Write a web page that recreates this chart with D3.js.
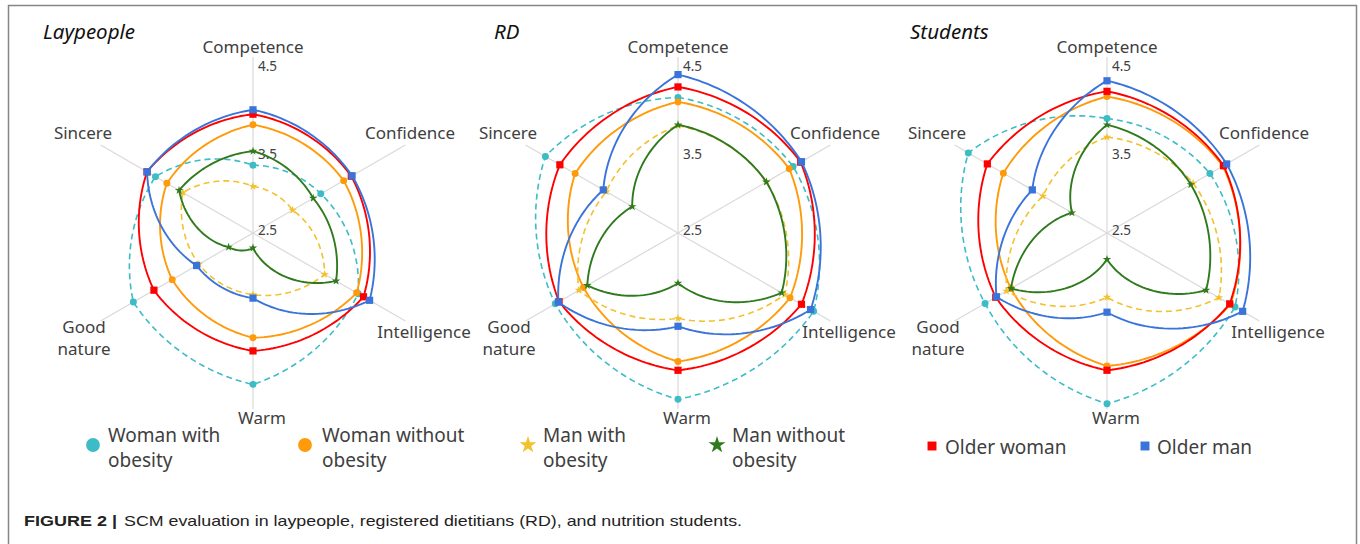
<!DOCTYPE html>
<html>
<head>
<meta charset="utf-8">
<script src="https://cdn.jsdelivr.net/npm/d3@7"></script>
<style>
  body { margin: 0; background: #fff; }
  svg { display: block; }
  text { font-family: "Noto Sans", "Open Sans", sans-serif; fill: #404040; }
</style>
</head>
<body>
<div id="chart"></div>
<script>
// axes in clockwise order, starting at the top
const axes = ["Competence", "Confidence", "Intelligence", "Warm", "Good nature", "Sincere"];
const seriesNames = ["Woman with obesity", "Woman without obesity", "Man with obesity",
	"Man without obesity", "Older woman", "Older man"];
const panelTitles = ["Laypeople", "RD", "Students"];
const tickValues = [2.5, 3.5, 4.5];

// one row per series, values in axes order
const laypeople = [
	[3.27, 3.39, 3.88, 4.22, 4.07, 3.78],
	[3.73, 3.69, 3.86, 3.69, 3.56, 3.63],
	[3.03, 3.02, 3.44, 3.20, 3.21, 3.42],
	[3.43, 3.29, 3.59, 2.67, 2.82, 3.47],
	[3.85, 3.79, 3.95, 3.84, 3.80, 3.89],
	[3.90, 3.80, 4.03, 3.24, 3.24, 3.89]
];
const rd = [
	[4.04, 4.01, 4.28, 4.39, 4.11, 4.24],
	[3.99, 3.96, 3.97, 3.96, 3.74, 3.85],
	[3.72, 3.66, 3.90, 3.47, 3.80, 3.44],
	[3.73, 3.66, 3.86, 3.07, 3.69, 3.10],
	[4.16, 4.11, 4.12, 4.06, 4.06, 4.05],
	[4.30, 4.12, 4.24, 3.56, 4.07, 3.48]
];
const students = [
	[3.80, 3.85, 4.18, 4.44, 4.10, 4.32],
	[4.05, 4.02, 4.12, 4.01, 3.76, 3.86],
	[3.59, 3.63, 3.97, 3.23, 3.82, 3.34],
	[3.73, 3.60, 3.80, 2.80, 3.76, 2.96],
	[4.11, 4.03, 4.11, 4.06, 3.96, 4.07],
	[4.23, 4.07, 4.28, 3.40, 3.95, 3.48]
];
const panelData = [laypeople, rd, students];

const styles = [
	{ color: "#3dbcc6", dash: "6,4", symbol: d3.symbolCircle, size: 38 },
	{ color: "#ff9a0a", dash: null, symbol: d3.symbolCircle, size: 38 },
	{ color: "#f2c12e", dash: "6,4", symbol: d3.symbolStar, size: 22 },
	{ color: "#2f7a1c", dash: null, symbol: d3.symbolStar, size: 22 },
	{ color: "#ff0000", dash: null, symbol: d3.symbolSquare, size: 52 },
	{ color: "#3a74da", dash: null, symbol: d3.symbolSquare, size: 52 }
];

const w = 1360, h = 544;
const R = 176;
const cy = 233;
const centers = [253, 678, 1107];
// label anchor offsets from the panel centre
const labelOffsets = {
	"Competence": [0, -186], "Confidence": [157, -100], "Intelligence": [171, 99],
	"Warm": [9, 185], "Good nature": [-169, 105], "Sincere": [-170, -100]
};

// closed curve that follows the spokes' angle: mostly polar, a bit of chord
function curvePolar(context) {
	const blend = 0.72, steps = 30;
	let pts;
	return {
		areaStart() {}, areaEnd() {},
		lineStart() { pts = []; },
		point(x, y) { pts.push([x, y]); },
		lineEnd() {
			const n = pts.length;
			for (let i = 0; i < n; i++) {
				const p0 = pts[i], p1 = pts[(i + 1) % n];
				const r0 = Math.hypot(p0[0], p0[1]), r1 = Math.hypot(p1[0], p1[1]);
				const a0 = Math.atan2(p0[0], -p0[1]);
				let da = Math.atan2(p1[0], -p1[1]) - a0;
				da = ((da % (2 * Math.PI)) + 2 * Math.PI) % (2 * Math.PI);
				for (let k = (i === 0 ? 0 : 1); k <= steps; k++) {
					const t = k / steps;
					const a = a0 + da * t, r = r0 + (r1 - r0) * t;
					const x = blend * r * Math.sin(a) + (1 - blend) * (p0[0] + (p1[0] - p0[0]) * t);
					const y = blend * -r * Math.cos(a) + (1 - blend) * (p0[1] + (p1[1] - p0[1]) * t);
					if (i === 0 && k === 0) context.moveTo(x, y);
					else context.lineTo(x, y);
				}
			}
			context.closePath();
		}
	};
}

const svg = d3.select("#chart").append("svg").attr("width", w).attr("height", h);

svg.append("rect")
	.attr("x", 8.5).attr("y", 5.5)
	.attr("width", 1348).attr("height", 580)
	.attr("fill", "none").attr("stroke", "#858585").attr("stroke-width", 1.5);

const rScale = d3.scaleLinear().domain([2.5, 4.5]).range([0, R]);
const angle = d3.scalePoint().domain(axes).range([0, 2 * Math.PI * 5 / 6]);

const line = d3.lineRadial()
	.angle((d, i) => angle(axes[i]))
	.radius(d => rScale(d))
	.curve(curvePolar);

panelData.forEach((data, p) => {
	const g = svg.append("g").attr("transform", `translate(${centers[p]}, ${cy})`);

	// spokes
	g.selectAll(".spoke").data(axes).join("line")
		.attr("x1", 0).attr("y1", 0)
		.attr("x2", d => R * Math.sin(angle(d)))
		.attr("y2", d => -R * Math.cos(angle(d)))
		.attr("stroke", "#d9d9d9").attr("stroke-width", 1.2);

	// tick labels
	g.selectAll(".tick").data(tickValues).join("text")
		.attr("x", 5)
		.attr("y", d => -rScale(d) + (d === tickValues[0] ? -3 : 9))
		.attr("dominant-baseline", "central")
		.style("font-size", "13.5px")
		.text(d => d3.format(".1f")(d));

	// axis labels
	g.selectAll(".axlabel").data(axes).join("text")
		.attr("text-anchor", "middle")
		.attr("transform", d => `translate(${labelOffsets[d][0]}, ${labelOffsets[d][1]})`)
		.style("font-size", "17px")
		.each(function (d) {
			const words = d === "Good nature" ? ["Good", "nature"] : [d];
			const t = d3.select(this);
			words.forEach((wd, k) => {
				t.append("tspan").attr("x", 0)
					.attr("y", (k - (words.length - 1) / 2) * 22)
					.attr("dy", "0.35em").text(wd);
			});
		});

	// series
	data.forEach((vals, s) => {
		const st = styles[s];
		g.append("path")
			.attr("d", line(vals))
			.attr("fill", "none")
			.attr("stroke", st.color)
			.attr("stroke-width", st.dash ? 1.6 : 1.9)
			.attr("stroke-dasharray", st.dash);
		g.selectAll(null).data(vals).join("path")
			.attr("d", d3.symbol(st.symbol, st.size))
			.attr("fill", st.color)
			.attr("transform", (d, i) => {
				const a = angle(axes[i]);
				return `translate(${rScale(d) * Math.sin(a)}, ${-rScale(d) * Math.cos(a)})`;
			});
	});

	// panel title
	svg.append("text")
		.attr("x", [43, 494, 910][p]).attr("y", 31)
		.attr("dominant-baseline", "central")
		.style("font-size", "20.5px").style("font-style", "italic")
		.style("fill", "#111")
		.text(panelTitles[p]);
});

// legend
const legendPos = [
	{ mx: 93, tx: 108 }, { mx: 305, tx: 322 },
	{ mx: 528, tx: 543 }, { mx: 717, tx: 732 },
	{ mx: 932, tx: 945 }, { mx: 1145, tx: 1157 }
];
const legendSizes = [150, 150, 90, 90, 80, 80];
seriesNames.forEach((name, s) => {
	const st = styles[s];
	const lp = legendPos[s];
	const lg = svg.append("g");
	lg.append("path")
		.attr("d", d3.symbol(st.symbol, legendSizes[s]))
		.attr("fill", st.color)
		.attr("transform", `translate(${lp.mx}, ${s >= 4 ? 446 : 445})`);
	const txt = lg.append("text").style("font-size", "19px");
	const lines = s >= 4 ? [name] : [name.replace(/ obesity$/, ""), "obesity"];
	lines.forEach((ln, k) => {
		txt.append("tspan").attr("x", lp.tx)
			.attr("y", s >= 4 ? 447 : 435 + k * 25)
			.attr("dominant-baseline", "central")
			.text(ln);
	});
});

// caption
const capFont = "'Liberation Sans', Arial, sans-serif";
svg.append("text")
	.attr("x", 24).attr("y", 520)
	.attr("dominant-baseline", "central")
	.attr("textLength", 93).attr("lengthAdjust", "spacingAndGlyphs")
	.style("font-family", capFont).style("font-size", "15px")
	.style("font-weight", "bold").style("fill", "#222")
	.text("FIGURE 2 |");
svg.append("text")
	.attr("x", 124).attr("y", 520)
	.attr("dominant-baseline", "central")
	.attr("textLength", 618).attr("lengthAdjust", "spacingAndGlyphs")
	.style("font-family", capFont).style("font-size", "15px")
	.style("fill", "#222")
	.text("SCM evaluation in laypeople, registered dietitians (RD), and nutrition students.");
</script>
</body>
</html>
